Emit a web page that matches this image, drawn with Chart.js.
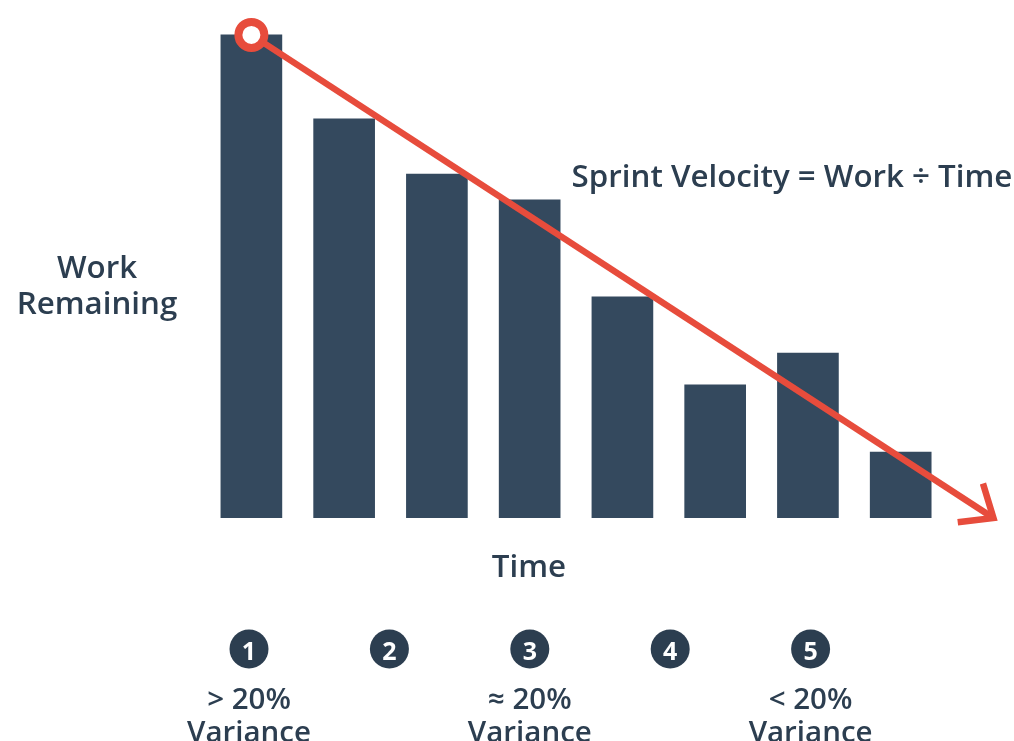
<!DOCTYPE html>
<html>
<head>
<meta charset="utf-8">
<script src="https://cdn.jsdelivr.net/npm/chart.js@4/dist/chart.umd.min.js"></script>
<style>
  html, body { margin: 0; padding: 0; background: #ffffff; overflow: hidden; }
  #wrap { width: 1014px; height: 741px; position: relative; }
</style>
</head>
<body>
<div id="wrap"><canvas id="burndown"></canvas></div>
<script>
// Sprint burndown: work remaining per time step, with the ideal velocity line.
const timeSteps = [1, 2, 3, 4, 5, 6, 7, 8];
const workRemaining = [99, 81.8, 70.5, 65.2, 45.3, 27.3, 33.8, 13.5];

// Ideal velocity line: from the first bar's top down to zero.
const velocityX = [1, 9];
const velocityY = [99, 0];

// Numbered markers under the time axis and their variance notes.
const markerNumbers = ['1', '2', '3', '4', '5'];
const varianceNotes = ['> 20%', '', '≈ 20%', '', '< 20%'];

const INK = '#2c3e50';
const BAR = '#34495e';
const RED = '#e74c3c';
const FONT = '"Open Sans", "Noto Sans", sans-serif';

const arrowHead = {
  id: 'arrowHead',
  afterDatasetsDraw(chart) {
    const meta = chart.getDatasetMeta(0);
    const pts = meta.data;
    const tip = pts[pts.length - 1];
    const prev = pts[pts.length - 2];
    const ang = Math.atan2(tip.y - prev.y, tip.x - prev.x);
    const len = 36, spread = 40 * Math.PI / 180;
    const ctx = chart.ctx;
    ctx.save();
    ctx.strokeStyle = RED;
    ctx.lineWidth = 6.5;
    ctx.lineJoin = 'miter';
    ctx.lineCap = 'butt';
    ctx.beginPath();
    ctx.moveTo(tip.x - len * Math.cos(ang - spread), tip.y - len * Math.sin(ang - spread));
    ctx.lineTo(tip.x, tip.y);
    ctx.lineTo(tip.x - len * Math.cos(ang + spread), tip.y - len * Math.sin(ang + spread));
    ctx.stroke();
    ctx.restore();
  }
};

const annotations = {
  id: 'annotations',
  afterDraw(chart) {
    const ctx = chart.ctx;
    ctx.save();
    ctx.fillStyle = INK;
    ctx.textAlign = 'center';
    ctx.textBaseline = 'alphabetic';
    ctx.font = '600 31.3px ' + FONT;
    ctx.fillText('Sprint Velocity = Work ÷ Time', 792, 187);
    ctx.fillText('Work', 97, 278);
    ctx.fillText('Remaining', 97, 314);
    ctx.fillText('Time', 529, 577);

    const cx0 = 249, step = 140.4, cy = 649, r = 19.5;
    markerNumbers.forEach((n, i) => {
      const cx = cx0 + i * step;
      ctx.fillStyle = INK;
      ctx.beginPath();
      ctx.arc(cx, cy, r, 0, Math.PI * 2);
      ctx.fill();
      ctx.fillStyle = '#ffffff';
      ctx.font = '700 25px ' + FONT;
      ctx.fillText(n, cx, 660);
      if (varianceNotes[i]) {
        ctx.fillStyle = INK;
        ctx.font = '600 29.5px ' + FONT;
        ctx.fillText(varianceNotes[i], cx, 709);
        ctx.fillText('Variance', cx, 742);
      }
    });
    ctx.restore();
  }
};

new Chart(document.getElementById('burndown'), {
  data: {
    datasets: [
      {
        type: 'line',
        order: 0,
        data: velocityX.map((x, i) => ({ x, y: velocityY[i] })),
        borderColor: RED,
        borderWidth: 6.5,
        pointRadius: [13, 0],
        pointBorderWidth: 8,
        pointBackgroundColor: '#ffffff',
        pointBorderColor: RED,
        tension: 0,
        clip: false
      },
      {
        type: 'bar',
        order: 1,
        data: timeSteps.map((x, i) => ({ x, y: workRemaining[i] })),
        backgroundColor: BAR,
        borderWidth: 0,
        barThickness: 61
      }
    ]
  },
  options: {
    responsive: true,
    maintainAspectRatio: false,
    animation: false,
    layout: { autoPadding: false, padding: { left: 205, right: 2, top: 30, bottom: 223 } },
    plugins: { legend: { display: false }, tooltip: { enabled: false } },
    scales: {
      x: { type: 'linear', min: 0.5, max: 9.2, display: false, offset: false },
      y: { type: 'linear', min: 0, max: 100, display: false }
    }
  },
  plugins: [arrowHead, annotations]
});
</script>
</body>
</html>
